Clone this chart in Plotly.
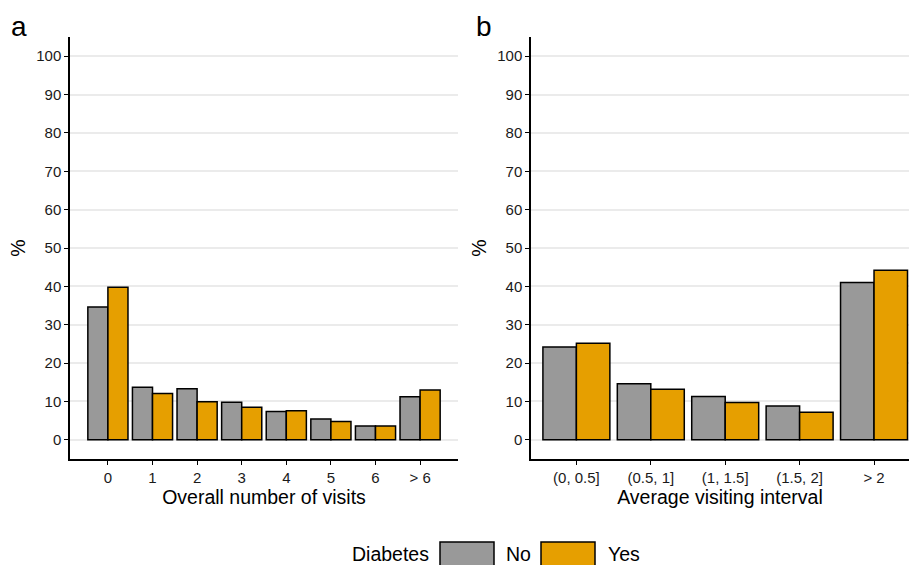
import plotly.graph_objects as go

# ---- data ----
visits_cats = ["0", "1", "2", "3", "4", "5", "6", "> 6"]
visits_no = [34.6, 13.7, 13.3, 9.8, 7.4, 5.4, 3.6, 11.2]
visits_yes = [39.8, 12.1, 9.9, 8.5, 7.6, 4.8, 3.6, 13.0]

interval_cats = ["(0, 0.5]", "(0.5, 1]", "(1, 1.5]", "(1.5, 2]", "> 2"]
interval_no = [24.2, 14.6, 11.3, 8.8, 41.0]
interval_yes = [25.2, 13.2, 9.7, 7.2, 44.2]

group_names = ["No", "Yes"]
group_colors = ["#999999", "#E69F00"]
y_ticks = list(range(0, 101, 10))

W, H = 909, 565
FONT = "Liberation Sans, Arial, Helvetica, sans-serif"
TICK = 15
TITLE = 19.5

fig = go.Figure()
for vals, name, col in zip([visits_no, visits_yes], group_names, group_colors):
    fig.add_trace(go.Bar(x=visits_cats, y=vals, name=name, marker_color=col,
                         marker_line_color="black", marker_line_width=1.5,
                         xaxis="x", yaxis="y", showlegend=False, offsetgroup=name))
for vals, name, col in zip([interval_no, interval_yes], group_names, group_colors):
    fig.add_trace(go.Bar(x=interval_cats, y=vals, name=name, marker_color=col,
                         marker_line_color="black", marker_line_width=1.5,
                         xaxis="x2", yaxis="y2", showlegend=False, offsetgroup=name))

top_px, bot_px = 37, 459
ph = bot_px - top_px

def py(p):
    return (bot_px - p) / ph

common_y = dict(range=[-5, 105], tickvals=y_ticks, showgrid=True, gridcolor="#EBEBEB",
                gridwidth=1.6, zeroline=False, showline=True, linecolor="black", linewidth=1.5,
                ticks="outside", ticklen=4, tickwidth=1.3, tickcolor="black",
                tickfont=dict(size=TICK, color="#1a1a1a", family=FONT),
                title=dict(text="%", font=dict(size=TITLE, color="black", family=FONT), standoff=5))
common_x = dict(type="category", showgrid=False, zeroline=False, showline=True, linecolor="black",
                linewidth=1.5, ticks="outside", ticklen=4, tickwidth=1.3, tickcolor="black",
                tickfont=dict(size=TICK, color="#1a1a1a", family=FONT))

fig.update_layout(
    width=W, height=H,
    margin=dict(l=0, r=0, t=top_px, b=H - bot_px),
    paper_bgcolor="white", plot_bgcolor="white",
    barmode="group", bargap=0.1, bargroupgap=0,
    font=dict(family=FONT, color="black"),
    xaxis=dict(common_x, domain=[70 / W, 458 / W], range=[-0.85, 7.85], anchor="y",
               title=dict(text="Overall number of visits", font=dict(size=TITLE, family=FONT), standoff=4)),
    yaxis=dict(common_y, domain=[0, 1], anchor="x"),
    xaxis2=dict(common_x, domain=[531 / W, 1], range=[-0.61, 4.47], anchor="y2",
                title=dict(text="Average visiting interval", font=dict(size=TITLE, family=FONT), standoff=4)),
    yaxis2=dict(common_y, domain=[0, 1], anchor="x2"),
)

# panel labels
for txt, xp in [("a", 19), ("b", 484)]:
    fig.add_annotation(text=txt, x=xp / W, y=py(26), xref="paper", yref="paper",
                       showarrow=False, font=dict(size=28, family=FONT, color="black"),
                       xanchor="center", yanchor="middle")

# legend (manual)
fig.add_annotation(text="Diabetes", x=431 / W, y=py(554), xref="paper", yref="paper",
                   showarrow=False, xanchor="right", yanchor="middle",
                   font=dict(size=TITLE, family=FONT, color="black"))
for (x0, x1), name, col, tx in zip([(440, 494), (541, 595)], group_names, group_colors, [504, 606]):
    fig.add_shape(type="rect", xref="paper", yref="paper", x0=x0 / W, x1=x1 / W,
                  y0=py(542), y1=py(572), fillcolor=col, line=dict(color="black", width=1.5))
    fig.add_annotation(text=name, x=tx / W, y=py(554), xref="paper", yref="paper",
                       showarrow=False, xanchor="left", yanchor="middle",
                       font=dict(size=TITLE, family=FONT, color="black"))

fig.write_html("out.html", config={"displayModeBar": False},
               post_script="document.body.style.margin='0';")
